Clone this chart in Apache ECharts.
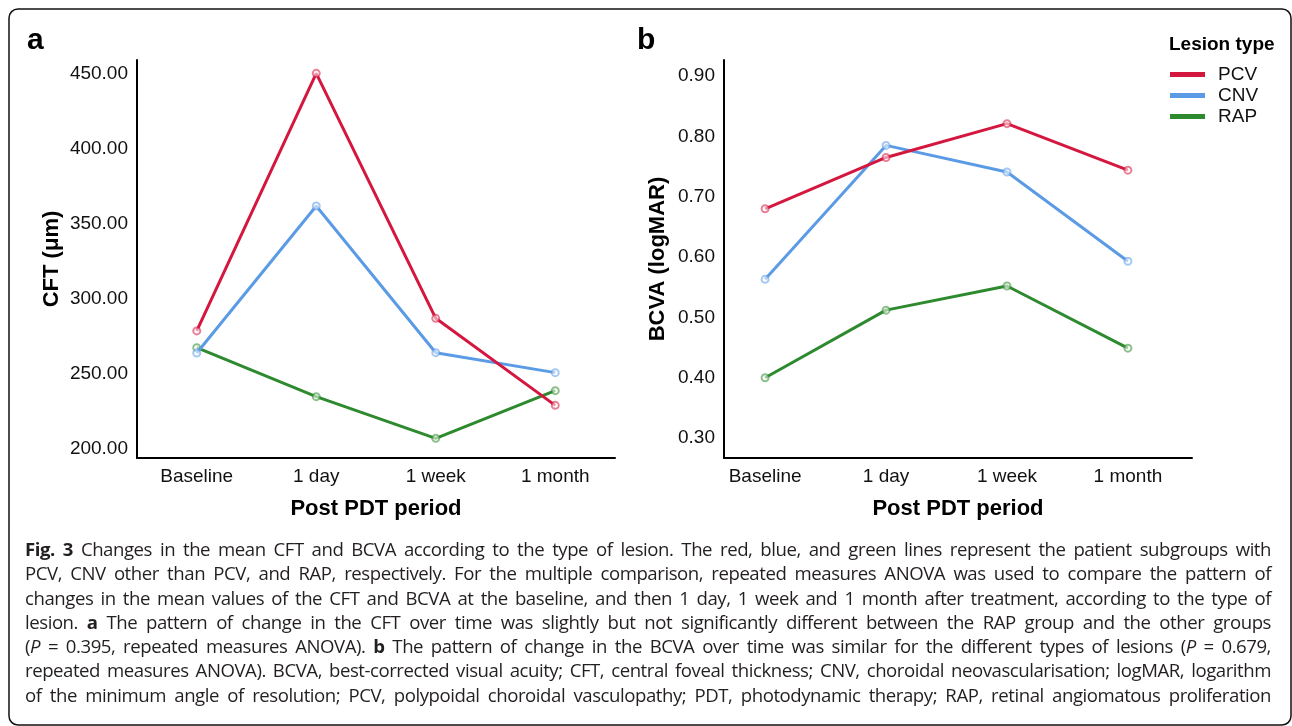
<!DOCTYPE html>
<html lang="en">
<head>
<meta charset="UTF-8">
<title>Fig. 3 CFT and BCVA by lesion type</title>
<script src="https://cdn.jsdelivr.net/npm/echarts@6/dist/echarts.min.js"></script>
<style>
    body { margin: 0; background: #fff; }
    #main { width: 1292px; height: 726px; }
    #caption {
        position: absolute; left: 25px; top: 537px; width: 1246px;
        font-family: "Open Sans"; font-size: 18.6px; line-height: 24.3px;
        letter-spacing: -0.45px; word-spacing: -1.5px; color: #231f20;
    }
    #caption div { text-align: justify; text-align-last: justify; white-space: nowrap; }
</style>
</head>
<body>
<div id="main"></div>
<div id="caption">
    <div><b>Fig. 3</b> Changes in the mean CFT and BCVA according to the type of lesion. The red, blue, and green lines represent the patient subgroups with</div>
    <div>PCV, CNV other than PCV, and RAP, respectively. For the multiple comparison, repeated measures ANOVA was used to compare the pattern of</div>
    <div>changes in the mean values of the CFT and BCVA at the baseline, and then 1 day, 1 week and 1 month after treatment, according to the type of</div>
    <div>lesion. <b>a</b> The pattern of change in the CFT over time was slightly but not significantly different between the RAP group and the other groups</div>
    <div>(<i>P</i> = 0.395, repeated measures ANOVA). <b>b</b> The pattern of change in the BCVA over time was similar for the different types of lesions (<i>P</i> = 0.679,</div>
    <div>repeated measures ANOVA). BCVA, best-corrected visual acuity; CFT, central foveal thickness; CNV, choroidal neovascularisation; logMAR, logarithm</div>
    <div>of the minimum angle of resolution; PCV, polypoidal choroidal vasculopathy; PDT, photodynamic therapy; RAP, retinal angiomatous proliferation</div>
</div>

<script type="text/javascript">
    // 数据
    const periods = ['Baseline', '1 day', '1 week', '1 month']
    const lesionTypes = ['PCV', 'CNV', 'RAP']
    const colors = ['#d4173f', '#5b9be6', '#2e8a2e']

    // a: CFT (μm)
    const cftPCV = [278.7, 450.4, 287.1, 229.1]
    const cftCNV = [264.0, 362.0, 264.2, 250.9]
    const cftRAP = [267.5, 234.9, 207.1, 238.9]
    const cftTicks = [200, 250, 300, 350, 400, 450]

    // b: BCVA (logMAR)
    const bcvaPCV = [0.680, 0.765, 0.821, 0.744]
    const bcvaCNV = [0.563, 0.785, 0.741, 0.593]
    const bcvaRAP = [0.400, 0.512, 0.552, 0.449]
    const bcvaTicks = [0.3, 0.4, 0.5, 0.6, 0.7, 0.8, 0.9]

    const font = 'Liberation Sans, Arial, sans-serif'

    function pairs(arr) {
        return arr.map((v, i) => [i, v])
    }

    function xAxisFor(gridIndex, min, max) {
        return {
            type: 'value', gridIndex: gridIndex, min: min, max: max,
            name: 'Post PDT period', nameLocation: 'middle', nameGap: 40,
            nameTextStyle: { fontFamily: font, fontSize: 22, fontWeight: 'bold', color: '#000' },
            axisLine: { show: true, onZero: false, lineStyle: { color: '#000', width: 2 } },
            axisTick: { show: false },
            splitLine: { show: false },
            axisLabel: {
                customValues: [0, 1, 2, 3], margin: 9,
                formatter: v => periods[v],
                fontFamily: font, fontSize: 19, color: '#111'
            }
        }
    }

    function yAxisFor(gridIndex, min, max, ticks, name, gap) {
        return {
            type: 'value', gridIndex: gridIndex, min: min, max: max,
            name: name, nameLocation: 'middle', nameGap: gap, nameRotate: 90,
            nameTextStyle: { fontFamily: font, fontSize: 22, fontWeight: 'bold', color: '#000' },
            axisLine: { show: true, onZero: false, lineStyle: { color: '#000', width: 2 } },
            axisTick: { show: false },
            splitLine: { show: false },
            axisLabel: {
                customValues: ticks, margin: 9,
                formatter: v => v.toFixed(2),
                fontFamily: font, fontSize: 19, color: '#111'
            }
        }
    }

    function lineSeries(name, idx, data, axisIndex) {
        return {
            name: name, type: 'line', data: pairs(data),
            xAxisIndex: axisIndex, yAxisIndex: axisIndex,
            symbol: 'emptyCircle', symbolSize: 7,
            lineStyle: { color: colors[idx], width: 3 },
            itemStyle: { color: colors[idx], borderColor: colors[idx], borderWidth: 1.5, opacity: 0.55 },
            emphasis: { disabled: true },
            z: 3 - idx
        }
    }

    const myChart = echarts.init(document.getElementById('main'))

    const option = {
        animation: false,
        color: colors,
        grid: [
            { left: 137, right: 677, top: 60, bottom: 268 },
            { left: 724, right: 100, top: 60, bottom: 268 }
        ],
        xAxis: [xAxisFor(0, -0.5, 3.5), xAxisFor(1, -0.34, 3.53)],
        yAxis: [
            yAxisFor(0, 194, 459.3, cftTicks, 'CFT (μm)', 74),
            yAxisFor(1, 0.267, 0.9265, bcvaTicks, 'BCVA (logMAR)', 55)
        ],
        legend: {
            orient: 'vertical', left: 1170, top: 64, padding: 0,
            data: lesionTypes,
            icon: 'rect', itemWidth: 35, itemHeight: 5, itemGap: 0,
            itemStyle: { opacity: 1, borderWidth: 0 },
            textStyle: { fontFamily: font, fontSize: 19, color: '#111', lineHeight: 21, padding: [0, 0, 0, 8] }
        },
        graphic: [
            { type: 'rect', shape: { x: 9, y: 9, width: 1282, height: 716, r: 9 },
              style: { fill: 'none', stroke: '#111', lineWidth: 1.5 } },
            { type: 'text', left: 27, top: 26,
              style: { text: 'a', font: 'bold 30px ' + font, fill: '#000' } },
            { type: 'text', left: 637, top: 26,
              style: { text: 'b', font: 'bold 30px ' + font, fill: '#000' } },
            { type: 'text', left: 1169, top: 35,
              style: { text: 'Lesion type', font: 'bold 19px ' + font, fill: '#000' } }
        ],
        series: [
            lineSeries('PCV', 0, cftPCV, 0),
            lineSeries('CNV', 1, cftCNV, 0),
            lineSeries('RAP', 2, cftRAP, 0),
            lineSeries('PCV', 0, bcvaPCV, 1),
            lineSeries('CNV', 1, bcvaCNV, 1),
            lineSeries('RAP', 2, bcvaRAP, 1)
        ]
    }

    myChart.setOption(option)
</script>
</body>
</html>
